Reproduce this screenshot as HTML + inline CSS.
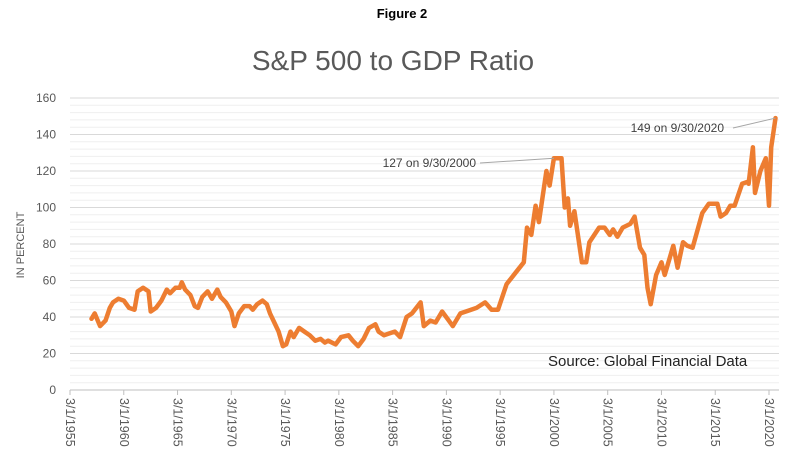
<!DOCTYPE html>
<html><head><meta charset="utf-8"><style>
html,body{margin:0;padding:0;background:#fff;}
svg{display:block;font-family:"Liberation Sans",sans-serif;}
</style></head><body>
<svg id="c" width="804" height="470" viewBox="0 0 804 470">
<text x="402" y="18" text-anchor="middle" font-size="13" font-weight="bold" fill="#000">Figure 2</text>
<text x="393" y="70" text-anchor="middle" font-size="28" fill="#595959">S&amp;P 500 to GDP Ratio</text>
<text transform="translate(24,245) rotate(-90)" text-anchor="middle" font-size="11" fill="#595959">IN PERCENT</text>
<g id="grid"></g><g id="yt"></g><g id="xt"></g><g id="ser"></g>
<text x="548" y="366" font-size="15" fill="#222">Source: Global Financial Data</text>
</svg>
<script>
const yTicks=[0,20,40,60,80,100,120,140,160];
const xTickYears=[1955,1960,1965,1970,1975,1980,1985,1990,1995,2000,2005,2010,2015,2020];
const years=[1957.0,1957.3,1957.8,1958.3,1958.7,1959.0,1959.5,1960.0,1960.5,1961.0,1961.3,1961.8,1962.3,1962.5,1963.0,1963.5,1964.0,1964.3,1964.8,1965.2,1965.4,1965.7,1966.2,1966.6,1966.9,1967.3,1967.8,1968.2,1968.7,1969.0,1969.5,1970.0,1970.3,1970.7,1971.2,1971.7,1972.0,1972.4,1972.9,1973.3,1973.6,1974.0,1974.4,1974.8,1975.1,1975.5,1975.8,1976.3,1976.8,1977.3,1977.8,1978.3,1978.7,1979.0,1979.7,1980.2,1980.9,1981.3,1981.8,1982.3,1982.8,1983.4,1983.7,1984.2,1984.7,1985.2,1985.7,1986.3,1986.8,1987.6,1987.9,1988.5,1989.0,1989.6,1990.1,1990.6,1991.3,1992.3,1992.8,1993.6,1994.2,1994.8,1995.6,1996.4,1997.2,1997.5,1997.9,1998.3,1998.6,1999.3,1999.6,2000.0,2000.7,2001.0,2001.3,2001.5,2001.9,2002.6,2003.0,2003.3,2004.2,2004.7,2005.2,2005.5,2005.9,2006.4,2007.1,2007.5,2008.0,2008.4,2008.7,2009.0,2009.5,2010.0,2010.3,2011.1,2011.5,2012.0,2012.4,2012.9,2013.8,2014.4,2015.2,2015.5,2016.0,2016.4,2016.8,2017.5,2018.0,2018.1,2018.5,2018.7,2019.2,2019.7,2020.0,2020.2,2020.6];
const values=[39,42,35,38,45,48,50,49,45,44,54,56,54,43,45,49,55,53,56,56,59,55,52,46,45,51,54,50,55,51,48,43,35,42,46,46,44,47,49,47,42,37,32,24,25,32,29,34,32,30,27,28,26,27,25,29,30,27,24,28,34,36,32,30,31,32,29,40,42,48,35,38,37,43,39,35,42,44,45,48,44,44,58,64,70,89,85,101,92,120,112,127,127,100,105,90,98,70,70,81,89,89,85,88,84,89,91,95,78,74,56,47,63,70,63,79,67,81,79,78,97,102,102,95,97,101,101,113,114,113,133,108,120,127,101,133,149];
const X0=70,X1=769,Y0=390,Y1=98;
const xs=y=>X0+(y-1955)*(X1-X0)/65;
const ys=v=>Y0-v*(Y0-Y1)/160;
const NS='http://www.w3.org/2000/svg';
function mk(t,a,p){const e=document.createElementNS(NS,t);for(const k in a)e.setAttribute(k,a[k]);p.appendChild(e);return e;}
const g=document.getElementById('grid');
for(let v=0;v<=160;v+=4){const l=mk('line',{x1:X0,x2:779,y1:ys(v),y2:ys(v),stroke:v%20===0?'#d9d9d9':'#efefef','stroke-width':1},g);

}
const ax=mk('line',{x1:X0,x2:779,y1:Y0,y2:Y0,stroke:'#bfbfbf','stroke-width':1},g);


const yt=document.getElementById('yt');
yTicks.forEach(v=>{const t=mk('text',{x:56,y:ys(v)+4,'text-anchor':'end','font-size':12,fill:'#595959'},yt);t.textContent=v;

});
const xt=document.getElementById('xt');
xTickYears.forEach(yr=>{const x=xs(yr);
const tk=mk('line',{x1:x,x2:x,y1:Y0,y2:Y0+5,stroke:'#bfbfbf'},xt);


const t=mk('text',{transform:`translate(${x-4},${Y0+8}) rotate(90)`,'font-size':12.5,fill:'#595959'},xt);t.textContent='3/1/'+yr;

});
const s=document.getElementById('ser');
const pts=years.map((y,i)=>xs(y).toFixed(1)+','+ys(values[i]).toFixed(1)).join(' ');
const pl=mk('polyline',{points:pts,fill:'none',stroke:'#ed7d31','stroke-width':4.5,'stroke-linejoin':'round','stroke-linecap':'round'},s);


function ann(txt,tx,ty,lx,idx,name){const i=idx;const px=xs(years[i]),py=ys(values[i]);
const l=mk('line',{x1:lx,y1:ty-4,x2:px,y2:py,stroke:'#a6a6a6','stroke-width':1},s);


const t=mk('text',{x:tx,y:ty,'text-anchor':'end','font-size':12,fill:'#404040'},s);t.textContent=txt;

}
ann('127 on 9/30/2000',476,167,480,years.indexOf(2000.0),'peak-2000-annotation');
ann('149 on 9/30/2020',724,132,733,years.length-1,'peak-2020-annotation');
</script>
</body></html>
